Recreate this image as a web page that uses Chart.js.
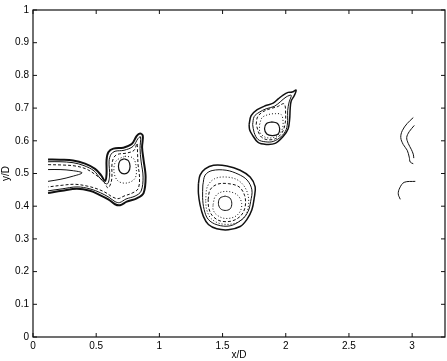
<!DOCTYPE html>
<html>
<head>
<meta charset="utf-8">
<script src="https://cdn.jsdelivr.net/npm/chart.js@4/dist/chart.umd.min.js"></script>
<style>
  body { margin: 0; background: #fff; }
  canvas { display: block; }
</style>
</head>
<body>
<canvas id="grafico" width="447" height="361"></canvas>
<script>
// tick labels
const xTicks = [0, 0.5, 1, 1.5, 2, 2.5, 3];
const yTicks = [0, 0.1, 0.2, 0.3, 0.4, 0.5, 0.6, 0.7, 0.8, 0.9, 1];

// contour lines, [x/D, y/D]
// left structure (near x/D = 0.7)
const izqExterior = [[0.119,0.543],[0.214,0.542],[0.317,0.540],[0.412,0.530],[0.491,0.514],[0.538,0.495],[0.570,0.477],[0.582,0.498],[0.582,0.541],[0.596,0.565],[0.636,0.576],[0.715,0.579],[0.781,0.590],[0.821,0.615],[0.847,0.622],[0.869,0.615],[0.863,0.580],[0.875,0.541],[0.891,0.489],[0.875,0.440],[0.821,0.424],[0.742,0.414],[0.689,0.403],[0.649,0.406],[0.596,0.421],[0.530,0.434],[0.451,0.447],[0.348,0.453],[0.230,0.447],[0.119,0.440]];
const izqSegunda = [[0.119,0.536],[0.214,0.536],[0.317,0.533],[0.404,0.524],[0.483,0.508],[0.530,0.486],[0.586,0.468],[0.606,0.492],[0.602,0.538],[0.618,0.559],[0.649,0.568],[0.720,0.571],[0.792,0.583],[0.831,0.607],[0.851,0.612],[0.847,0.577],[0.855,0.538],[0.871,0.489],[0.855,0.446],[0.808,0.431],[0.736,0.422],[0.685,0.411],[0.649,0.414],[0.602,0.427],[0.534,0.441],[0.451,0.453],[0.348,0.459],[0.230,0.453],[0.119,0.447]];
const izqTrazos = [[0.119,0.527],[0.230,0.526],[0.333,0.523],[0.420,0.514],[0.499,0.495],[0.562,0.474],[0.594,0.456],[0.622,0.480],[0.625,0.529],[0.641,0.550],[0.673,0.559],[0.736,0.562],[0.800,0.571],[0.823,0.592],[0.827,0.565],[0.831,0.529],[0.843,0.486],[0.831,0.453],[0.784,0.440],[0.720,0.431],[0.673,0.423],[0.625,0.429],[0.578,0.441],[0.515,0.452],[0.435,0.461],[0.333,0.467],[0.230,0.464],[0.119,0.459]];
const izqLengua = [[0.119,0.512],[0.214,0.512],[0.309,0.509],[0.388,0.502],[0.309,0.491],[0.214,0.482],[0.119,0.476]];
const izqPuntos = [[0.728,0.553],[0.792,0.547],[0.816,0.520],[0.808,0.486],[0.744,0.471],[0.673,0.477],[0.641,0.505],[0.657,0.538],[0.728,0.553]];
const izqNucleo = [[0.722,0.545],[0.755,0.539],[0.768,0.522],[0.755,0.505],[0.722,0.499],[0.689,0.505],[0.676,0.522],[0.689,0.539],[0.722,0.545]];

// middle structure (near x/D = 1.5)
const medExterior = [[1.309,0.469],[1.322,0.495],[1.362,0.514],[1.428,0.525],[1.534,0.523],[1.639,0.510],[1.718,0.489],[1.758,0.459],[1.750,0.424],[1.732,0.389],[1.692,0.359],[1.639,0.338],[1.546,0.328],[1.454,0.331],[1.388,0.344],[1.348,0.369],[1.322,0.404],[1.309,0.439],[1.309,0.469]];
const medSegunda = [[1.344,0.465],[1.362,0.495],[1.417,0.509],[1.528,0.510],[1.623,0.498],[1.694,0.480],[1.732,0.450],[1.722,0.414],[1.702,0.384],[1.655,0.360],[1.560,0.340],[1.457,0.343],[1.386,0.360],[1.354,0.390],[1.342,0.426],[1.344,0.465]];
const medTercera = [[1.366,0.418],[1.380,0.460],[1.437,0.484],[1.536,0.489],[1.628,0.478],[1.690,0.448],[1.706,0.408],[1.676,0.368],[1.600,0.348],[1.490,0.346],[1.410,0.362],[1.374,0.390],[1.366,0.418]];
const medTrazos = [[1.386,0.420],[1.401,0.450],[1.457,0.467],[1.544,0.469],[1.631,0.459],[1.675,0.432],[1.679,0.399],[1.647,0.372],[1.576,0.355],[1.481,0.355],[1.417,0.372],[1.390,0.396],[1.386,0.420]];
const medPuntos = [[1.425,0.405],[1.441,0.429],[1.488,0.443],[1.560,0.444],[1.623,0.432],[1.651,0.408],[1.639,0.384],[1.592,0.367],[1.512,0.363],[1.449,0.375],[1.425,0.390],[1.425,0.405]];
const medNucleo = [[1.520,0.431],[1.558,0.425],[1.573,0.409],[1.560,0.392],[1.520,0.387],[1.482,0.393],[1.467,0.409],[1.480,0.425],[1.520,0.431]];

// upper structure (near x/D = 1.9)
const supExterior = [[1.710,0.650],[1.726,0.677],[1.774,0.695],[1.837,0.707],[1.900,0.715],[1.940,0.728],[1.979,0.740],[2.019,0.748],[2.051,0.749],[2.082,0.755],[2.066,0.737],[2.043,0.722],[2.035,0.698],[2.031,0.668],[2.019,0.637],[1.979,0.613],[1.916,0.592],[1.845,0.589],[1.781,0.595],[1.734,0.619],[1.714,0.634],[1.710,0.650]];
const supSegunda = [[1.738,0.650],[1.750,0.674],[1.789,0.687],[1.845,0.698],[1.908,0.705],[1.956,0.719],[2.003,0.734],[2.043,0.739],[2.027,0.719],[2.015,0.692],[2.015,0.662],[2.003,0.634],[1.964,0.613],[1.900,0.598],[1.837,0.597],[1.781,0.604],[1.750,0.625],[1.738,0.650]];
const supTrazos = [[1.766,0.650],[1.778,0.674],[1.821,0.689],[1.876,0.698],[1.932,0.704],[1.987,0.713],[1.999,0.680],[1.995,0.653],[1.971,0.625],[1.916,0.606],[1.845,0.604],[1.797,0.616],[1.766,0.650]];
const supPuntos = [[1.793,0.650],[1.813,0.671],[1.861,0.680],[1.916,0.683],[1.964,0.680],[1.979,0.656],[1.967,0.631],[1.916,0.612],[1.845,0.610],[1.797,0.625],[1.793,0.650]];
const supNucleo = [[1.892,0.658],[1.935,0.653],[1.952,0.637],[1.938,0.620],[1.892,0.616],[1.850,0.621],[1.832,0.637],[1.848,0.653],[1.892,0.658]];

// right edge (near x/D = 3)
const derArcoA = [[3.009,0.671],[2.961,0.653],[2.922,0.631],[2.910,0.610],[2.929,0.589],[2.961,0.571],[2.977,0.550],[2.985,0.535],[3.009,0.530]];
const derArcoB = [[3.017,0.647],[2.977,0.628],[2.957,0.610],[2.969,0.592],[2.993,0.574],[3.009,0.559],[3.013,0.547]];
const derAbajo = [[3.025,0.476],[2.937,0.473],[2.902,0.456],[2.890,0.438],[2.906,0.421]];

function linea(puntos, ancho, guiones) {
    return {
        data: puntos.map(p => ({ x: p[0], y: p[1] })),
        showLine: true,
        borderColor: '#111',
        borderWidth: ancho,
        borderDash: guiones || [],
        pointRadius: 0,
        tension: 0.35,
        fill: false
    };
}

const datasets = [
    linea(izqExterior, 2), linea(izqSegunda, 1), linea(izqTrazos, 1, [3, 2]),
    linea(izqLengua, 1), linea(izqPuntos, 1, [1, 2]), linea(izqNucleo, 1.2),
    linea(medExterior, 1.5), linea(medSegunda, 1), linea(medTercera, 1, [1, 2]),
    linea(medTrazos, 1, [3, 2]), linea(medPuntos, 1, [1, 2]), linea(medNucleo, 1),
    linea(supExterior, 1.5), linea(supSegunda, 1), linea(supTrazos, 1, [3, 2]),
    linea(supPuntos, 1, [1, 2]), linea(supNucleo, 1.2),
    linea(derArcoA, 1), linea(derArcoB, 1), linea(derAbajo, 1)
];

// MATLAB style box with ticks pointing inward
const cajaConMarcas = {
    id: 'cajaConMarcas',
    afterDraw(chart) {
        const ctx = chart.ctx;
        const a = chart.chartArea;
        const sx = chart.scales.x, sy = chart.scales.y;
        ctx.save();
        ctx.strokeStyle = '#111';
        ctx.lineWidth = 1.2;
        ctx.strokeRect(a.left, a.top, a.right - a.left, a.bottom - a.top);
        ctx.lineWidth = 1;
        ctx.beginPath();
        xTicks.forEach(v => {
            const px = sx.getPixelForValue(v);
            ctx.moveTo(px, a.bottom); ctx.lineTo(px, a.bottom - 4);
            ctx.moveTo(px, a.top); ctx.lineTo(px, a.top + 4);
        });
        yTicks.forEach(v => {
            const py = sy.getPixelForValue(v);
            ctx.moveTo(a.left, py); ctx.lineTo(a.left + 4, py);
            ctx.moveTo(a.right, py); ctx.lineTo(a.right - 4, py);
        });
        ctx.stroke();
        ctx.restore();
    }
};

const fuente = { family: 'Liberation Sans', size: 10 };

new Chart(document.getElementById('grafico'), {
    type: 'scatter',
    data: { datasets: datasets },
    options: {
        responsive: false,
        animation: false,
        layout: { padding: { top: 7, right: 2, left: 0, bottom: 0 } },
        plugins: { legend: { display: false }, tooltip: { enabled: false } },
        scales: {
            x: {
                type: 'linear', min: 0, max: 3.26,
                grid: { display: false, drawTicks: false },
                border: { display: false },
                afterBuildTicks: s => { s.ticks = xTicks.map(v => ({ value: v })); },
                ticks: { color: '#000', font: fuente, padding: 3, maxRotation: 0, callback: v => String(v) },
                title: { display: true, text: 'x/D', color: '#000', font: fuente, padding: { top: 0, bottom: 0 } },
                afterFit: s => { s.height = 24; }
            },
            y: {
                type: 'linear', min: 0, max: 1,
                grid: { display: false, drawTicks: false },
                border: { display: false },
                afterBuildTicks: s => { s.ticks = yTicks.map(v => ({ value: v })); },
                ticks: { color: '#000', font: fuente, padding: 4, callback: v => String(v) },
                title: { display: true, text: 'y/D', color: '#000', font: fuente, padding: { top: 0, bottom: 0 } },
                afterFit: s => { s.width = 33; }
            }
        }
    },
    plugins: [cajaConMarcas]
});
</script>
</body>
</html>
